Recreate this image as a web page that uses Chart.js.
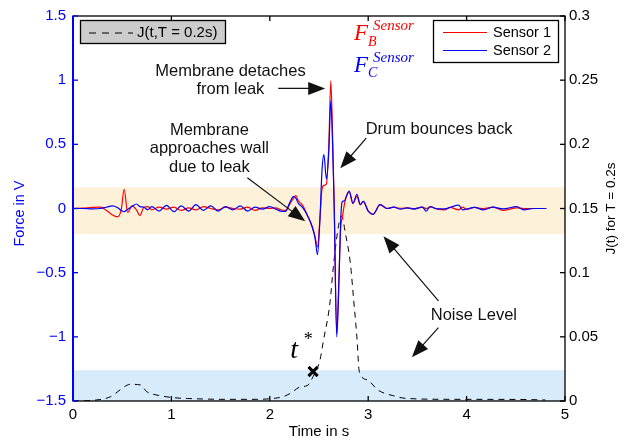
<!DOCTYPE html>
<html>
<head>
<meta charset="utf-8">
<script src="https://cdn.jsdelivr.net/npm/chart.js@4.4.0/dist/chart.umd.min.js"></script>
<style>
  html, body { margin: 0; padding: 0; background: #fff; }
  #wrap { width: 639px; height: 443px; }
</style>
</head>
<body>
<div id="wrap"><canvas id="chart" width="639" height="443"></canvas></div>
<script>
// Sensor signals (time in s, force in V)
const time = [0.00, 0.10, 0.20, 0.28, 0.34, 0.40, 0.45, 0.49, 0.52, 0.555, 0.60, 0.645, 0.68, 0.72, 0.76,
  0.80, 0.875, 0.95, 1.025, 1.10, 1.175, 1.25, 1.325, 1.40, 1.475, 1.55, 1.625, 1.70, 1.775, 1.85, 1.925, 2.00,
  2.06, 2.11, 2.16, 2.20, 2.24, 2.265, 2.29, 2.33, 2.38, 2.43, 2.46, 2.485, 2.51, 2.53, 2.55, 2.575, 2.60, 2.62,
  2.64, 2.655, 2.68, 2.70, 2.72, 2.735, 2.76, 2.78, 2.807, 2.845, 2.885, 2.92, 2.95, 3.00, 3.05, 3.12, 3.19,
  3.26, 3.33, 3.40, 3.46, 3.55, 3.59, 3.63, 3.70, 3.78, 3.83, 3.92, 3.96, 4.00, 4.08, 4.17, 4.27, 4.37, 4.51,
  4.58, 4.68, 4.81];
const sensor1 = [0.000, 0.003, 0.008, 0.010, -0.015, -0.050, -0.065, -0.010, 0.150, -0.030, 0.020, -0.010, -0.055, 0.010, 0.015,
  -0.010, 0.010, -0.005, 0.010, -0.015, 0.005, -0.010, 0.015, 0.000, -0.010, 0.010, 0.000, -0.005, 0.010, -0.015, 0.005, 0.000,
  0.005, -0.010, -0.015, 0.030, 0.080, 0.100, 0.060, 0.028, -0.050, -0.140, -0.220, -0.300, -0.075, 0.150, 0.180, 0.190, 0.500, 0.995,
  0.500, 0.000, -0.970, -0.600, -0.150, -0.080, 0.040, 0.100, 0.130, 0.040, 0.095, 0.030, 0.055, -0.020, -0.045, 0.030, 0.000,
  0.010, 0.002, 0.005, -0.003, 0.010, 0.000, 0.012, -0.003, -0.010, 0.008, -0.010, 0.010, -0.005, 0.008, 0.000, 0.010, -0.015, 0.005,
  0.000, 0.000, 0.000];
const sensor2 = [0.000, 0.000, -0.003, 0.000, 0.010, 0.020, 0.008, -0.015, -0.025, -0.005, 0.015, 0.035, 0.015, 0.010, -0.010,
  0.015, -0.020, 0.025, -0.025, 0.020, -0.020, 0.030, -0.015, 0.020, -0.020, 0.015, -0.010, 0.020, -0.020, 0.010, -0.005, 0.015,
  -0.005, -0.020, -0.023, 0.040, 0.093, 0.080, 0.040, 0.010, -0.050, -0.140, -0.230, -0.360, -0.075, 0.290, 0.420, 0.230, 0.450, 0.840,
  0.450, 0.000, -1.000, -0.650, -0.100, 0.050, 0.060, 0.100, 0.135, 0.040, 0.110, 0.030, 0.055, -0.020, -0.045, 0.030, 0.000,
  0.010, -0.005, 0.005, -0.003, 0.010, -0.020, 0.015, -0.003, -0.003, 0.008, 0.026, -0.010, -0.005, 0.008, -0.010, 0.010, -0.003, 0.015,
  -0.010, 0.000, 0.000];

// J(t, T = 0.2s), right axis
const jTime = [0, 0.2, 0.38, 0.45, 0.52, 0.58, 0.685, 0.75, 0.855, 1.02, 1.22, 1.56, 1.8, 2.04, 2.14, 2.21, 2.31, 2.38,
  2.44, 2.51, 2.545, 2.61, 2.645, 2.68, 2.715, 2.733, 2.765, 2.82, 2.85, 2.885, 2.91, 2.99, 3.10, 3.26, 3.39, 3.87, 4.54, 4.8];
const jValue = [0, 0.0005, 0.0033, 0.007, 0.011, 0.013, 0.0125, 0.0072, 0.0046, 0.0026, 0.0018, 0.0013, 0.0013, 0.002, 0.0035,
  0.006, 0.011, 0.012, 0.019, 0.032, 0.047, 0.0756, 0.104, 0.127, 0.1425, 0.144, 0.132, 0.1065, 0.0807, 0.05, 0.0227, 0.0165,
  0.0085, 0.004, 0.002, 0.0013, 0.0012, 0.0008];

// detection point t*
const tStar = [2.44];
const jStar = [0.023];

// noise level bands
const forceBand = [-0.2, 0.165];
const jBand = [0, 0.024];

const FONT = '"Liberation Sans", Arial, Helvetica, sans-serif';
const SERIF = '"Liberation Serif", "Times New Roman", serif';

function toPoints(xs, ys) {
  return xs.map((x, i) => ({ x: x, y: ys[i] }));
}

function arrow(ctx, x1, y1, x2, y2) {
  const ang = Math.atan2(y2 - y1, x2 - x1);
  const len = 17, half = 6.5;
  const c = Math.cos(ang), s = Math.sin(ang);
  ctx.beginPath();
  ctx.moveTo(x1, y1);
  ctx.lineTo(x2 - c * len * 0.8, y2 - s * len * 0.8);
  ctx.stroke();
  ctx.beginPath();
  ctx.moveTo(x2, y2);
  ctx.lineTo(x2 - len * c + half * s, y2 - len * s - half * c);
  ctx.lineTo(x2 - len * c - half * s, y2 - len * s + half * c);
  ctx.closePath();
  ctx.fill();
}

const matlabLook = {
  id: 'matlabLook',
  beforeDatasetsDraw(chart) {
    const { ctx, chartArea: a, scales } = chart;
    ctx.save();
    // orange noise band on force axis
    const yTop = scales.y.getPixelForValue(forceBand[1]);
    const yBot = scales.y.getPixelForValue(forceBand[0]);
    ctx.fillStyle = '#fdf1da';
    ctx.fillRect(a.left, yTop, a.right - a.left, yBot - yTop);
    // blue noise band on J axis
    const jTop = scales.yJ.getPixelForValue(jBand[1]);
    const jBot = scales.yJ.getPixelForValue(jBand[0]);
    ctx.fillStyle = '#d7ebfa';
    ctx.fillRect(a.left, jTop, a.right - a.left, jBot - jTop);
    ctx.restore();
  },
  afterDatasetsDraw(chart) {
    const { ctx, chartArea: a, scales } = chart;
    ctx.save();
    ctx.lineWidth = 1.3;
    ctx.strokeStyle = '#000';
    ctx.strokeRect(a.left, a.top, a.right - a.left, a.bottom - a.top);
    // x ticks, inward, top and bottom
    scales.x.ticks.forEach(t => {
      const x = scales.x.getPixelForValue(t.value);
      ctx.beginPath();
      ctx.moveTo(x, a.bottom); ctx.lineTo(x, a.bottom - 5);
      ctx.moveTo(x, a.top); ctx.lineTo(x, a.top + 5);
      ctx.stroke();
    });
    // right ticks
    scales.yJ.ticks.forEach(t => {
      const y = scales.yJ.getPixelForValue(t.value);
      ctx.beginPath();
      ctx.moveTo(a.right, y); ctx.lineTo(a.right - 5, y);
      ctx.stroke();
    });
    // left axis in blue
    ctx.strokeStyle = '#0000ff';
    scales.y.ticks.forEach(t => {
      const y = scales.y.getPixelForValue(t.value);
      ctx.beginPath();
      ctx.moveTo(a.left, y); ctx.lineTo(a.left + 5, y);
      ctx.stroke();
    });
    ctx.lineWidth = 2;
    ctx.beginPath();
    ctx.moveTo(a.left, a.top); ctx.lineTo(a.left, a.bottom);
    ctx.stroke();
    ctx.restore();
  },
  afterDraw(chart) {
    const { ctx, chartArea: a, scales } = chart;
    const px = v => scales.x.getPixelForValue(v);
    const py = v => scales.y.getPixelForValue(v);
    ctx.save();

    // axis titles
    ctx.font = '15px ' + FONT;
    ctx.fillStyle = '#000';
    ctx.textAlign = 'center';
    ctx.textBaseline = 'middle';
    ctx.fillText('Time in s', (a.left + a.right) / 2, 432);

    ctx.save();
    ctx.translate(20, (a.top + a.bottom) / 2 + 5);
    ctx.rotate(-Math.PI / 2);
    ctx.fillStyle = '#0000ff';
    ctx.font = '14.5px ' + FONT;
    ctx.fillText('Force in V', 0, 0);
    ctx.restore();

    ctx.save();
    ctx.translate(611, (a.top + a.bottom) / 2);
    ctx.rotate(-Math.PI / 2);
    ctx.font = '13.5px ' + FONT;
    ctx.fillText('J(t) for T = 0.2s', 0, 0);
    ctx.restore();

    // annotations
    ctx.font = '16.5px ' + FONT;
    ctx.textBaseline = 'alphabetic';
    ctx.fillStyle = '#111';
    ctx.strokeStyle = '#111';
    ctx.lineWidth = 1.2;
    ctx.fillText('Membrane detaches', px(1.60), py(1.032));
    ctx.fillText('from leak', px(1.60), py(0.893));
    arrow(ctx, px(2.086), py(0.936), px(2.563), py(0.936));

    ctx.fillText('Membrane', px(1.386), py(0.576));
    ctx.fillText('approaches wall', px(1.386), py(0.429));
    ctx.fillText('due to leak', px(1.386), py(0.282));
    arrow(ctx, px(1.772), py(0.240), px(2.36), py(-0.10));

    ctx.fillText('Drum bounces back', px(3.72), py(0.582));
    arrow(ctx, px(2.98), py(0.549), px(2.716), py(0.313));

    ctx.fillText('Noise Level', px(4.074), py(-0.866));
    arrow(ctx, px(3.714), py(-0.719), px(3.155), py(-0.2165));
    arrow(ctx, px(3.714), py(-0.928), px(3.444), py(-1.160));

    // t*
    ctx.textAlign = 'left';
    ctx.fillStyle = '#000';
    ctx.font = 'italic 28px ' + SERIF;
    ctx.fillText('t', px(2.208), py(-1.1675));
    ctx.font = '18px ' + SERIF;
    ctx.fillText('*', px(2.345), py(-1.06));

    // F labels
    ctx.fillStyle = '#ff0000';
    ctx.font = 'italic 23px ' + SERIF;
    ctx.fillText('F', 354, 40);
    ctx.font = 'italic 14px ' + SERIF;
    ctx.fillText('B', 368, 46);
    ctx.font = 'italic 15px ' + SERIF;
    ctx.fillText('Sensor', 373, 30);
    ctx.fillStyle = '#0000ff';
    ctx.font = 'italic 23px ' + SERIF;
    ctx.fillText('F', 354, 72);
    ctx.font = 'italic 14px ' + SERIF;
    ctx.fillText('C', 368, 77);
    ctx.font = 'italic 15px ' + SERIF;
    ctx.fillText('Sensor', 373, 62);

    // legend: J
    ctx.fillStyle = '#cccccc';
    ctx.fillRect(80.5, 20.5, 145, 23);
    ctx.strokeStyle = '#000';
    ctx.lineWidth = 1.3;
    ctx.strokeRect(80.5, 20.5, 145, 23);
    ctx.save();
    ctx.setLineDash([7, 6]);
    ctx.lineWidth = 1;
    ctx.beginPath();
    ctx.moveTo(89, 33); ctx.lineTo(133, 33);
    ctx.stroke();
    ctx.restore();
    ctx.fillStyle = '#000';
    ctx.font = '15px ' + FONT;
    ctx.textBaseline = 'middle';
    ctx.fillText('J(t,T = 0.2s)', 137, 33);

    // legend: sensors
    ctx.fillStyle = '#fff';
    ctx.fillRect(433.5, 20.5, 125, 42);
    ctx.strokeRect(433.5, 20.5, 125, 42);
    ctx.lineWidth = 1;
    ctx.strokeStyle = '#ff0000';
    ctx.beginPath(); ctx.moveTo(443, 32.5); ctx.lineTo(487, 32.5); ctx.stroke();
    ctx.strokeStyle = '#0000ff';
    ctx.beginPath(); ctx.moveTo(443, 50.5); ctx.lineTo(487, 50.5); ctx.stroke();
    ctx.fillStyle = '#000';
    ctx.font = '14.5px ' + FONT;
    ctx.fillText('Sensor 1', 493, 32.5);
    ctx.fillText('Sensor 2', 493, 50.5);

    ctx.restore();
  }
};

new Chart(document.getElementById('chart'), {
  type: 'line',
  data: {
    datasets: [
      {
        label: 't*',
        data: toPoints(tStar, jStar),
        yAxisID: 'yJ',
        showLine: false,
        pointStyle: 'crossRot',
        pointRadius: 6.5,
        pointBorderWidth: 3,
        borderColor: '#000',
        backgroundColor: '#000',
        order: 0
      },
      {
        label: 'Sensor 2',
        data: toPoints(time, sensor2),
        yAxisID: 'y',
        borderColor: '#0000ff',
        borderWidth: 1.2,
        pointRadius: 0,
        cubicInterpolationMode: 'monotone',
        order: 1
      },
      {
        label: 'Sensor 1',
        data: toPoints(time, sensor1),
        yAxisID: 'y',
        borderColor: '#ff0000',
        borderWidth: 1.2,
        pointRadius: 0,
        cubicInterpolationMode: 'monotone',
        order: 2
      },
      {
        label: 'J(t,T = 0.2s)',
        data: toPoints(jTime, jValue),
        yAxisID: 'yJ',
        borderColor: '#000',
        borderWidth: 1,
        borderDash: [6, 5],
        pointRadius: 0,
        cubicInterpolationMode: 'monotone',
        order: 3
      }
    ]
  },
  options: {
    responsive: false,
    animation: false,
    layout: { padding: { left: 0, right: 0, top: 13, bottom: 0 } },
    plugins: {
      legend: { display: false },
      tooltip: { enabled: false }
    },
    scales: {
      x: {
        type: 'linear',
        min: 0,
        max: 5,
        ticks: { stepSize: 1, color: '#000', font: { family: FONT, size: 15 }, padding: 5 },
        grid: { display: false, drawTicks: false },
        border: { display: false },
        afterFit: s => { s.height = 42; }
      },
      y: {
        position: 'left',
        min: -1.5,
        max: 1.5,
        ticks: {
          stepSize: 0.5,
          color: '#0000ff',
          font: { family: FONT, size: 15 },
          padding: 7,
          callback: v => String(v).replace('-', '\u2212')
        },
        grid: { display: false, drawTicks: false },
        border: { display: false },
        afterFit: s => { s.width = 73; }
      },
      yJ: {
        position: 'right',
        min: 0,
        max: 0.3,
        ticks: {
          stepSize: 0.05,
          color: '#000',
          font: { family: FONT, size: 15 },
          padding: 4,
          callback: v => String(Number(v.toFixed(2)))
        },
        grid: { display: false, drawTicks: false },
        border: { display: false },
        afterFit: s => { s.width = 74; }
      }
    }
  },
  plugins: [matlabLook]
});
</script>
</body>
</html>
